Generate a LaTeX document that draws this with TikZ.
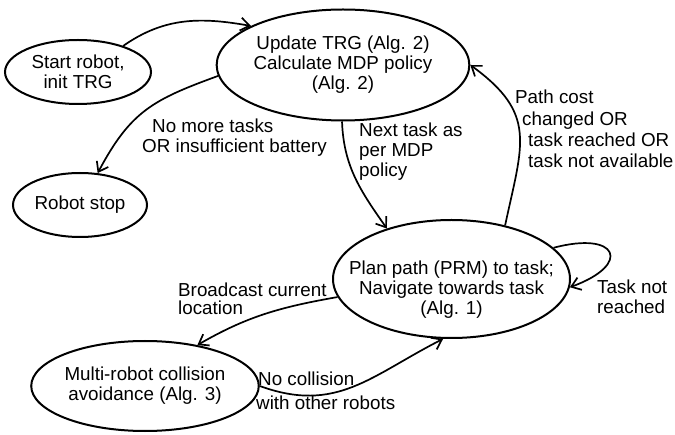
\documentclass[tikz,border=0pt]{standalone}
\usepackage{fontspec}
\setmainfont{Liberation Sans}
\usetikzlibrary{shapes.geometric,arrows.meta}
\begin{document}
\begin{tikzpicture}[x=1pt,y=1pt,
  every node/.style={font=\fontsize{18.8}{20}\selectfont, inner sep=0pt},
  state/.style={ellipse, draw, line width=2pt, align=center},
  conn/.style={line width=1.7pt, -{Straight Barb[length=9pt,width=13pt]}},
  lbl/.style={align=left, anchor=west}]
\useasboundingbox (0,0) rectangle (675,434);
% states
\node[state, minimum width=146pt, minimum height=64pt] (start) at (78,362) {Start robot,\\init TRG};
\node[state, minimum width=236pt, minimum height=111pt] (update) at (343,369) {Update TRG (Alg. 2)\\Calculate MDP policy\\(Alg. 2)};
\node[state, minimum width=134pt, minimum height=64pt] (stop) at (80,229) {Robot stop};
\node[state, minimum width=237pt, minimum height=118pt] (plan) at (451.5,155) {};
\node[align=center] (plantext) at (451.5,144) {Plan path (PRM) to task;\\Navigate towards task\\(Alg. 1)};
\node[state, minimum width=186pt, minimum height=90pt] (multi) at (145,48) {Multi-robot collision\\avoidance (Alg. 3)};
% connectors
\draw[conn] (start.30) to[out=35,in=170] (update.157);
\draw[conn] (update.185) to[out=200,in=62,looseness=1.15] (stop.61);
\draw[conn] (update.269) to[out=272,in=125] (plan.142);
\draw[conn] (plan.45) to[out=78,in=-36,looseness=1.3] (update.0);
\draw[conn] (plan.17) to[out=15,in=20,looseness=4] (plan.-4);
\draw[conn] (plan.189) to[out=190,in=30] (multi.38);
\draw[conn] (multi.0) to[out=-20,in=207,looseness=1.1] (plan.262);
% labels
\node[lbl] (l1) at (142,296) {\hspace*{10pt}No more tasks\\OR insufficient battery};
\node[lbl] (l2) at (359,282) {Next task as\\per MDP\\policy};
\node[lbl] (l3) at (515,305) {Path cost\\[1.3pt]\hspace*{7pt}changed OR\\[1.3pt]\hspace*{13pt}task reached OR\\[1.3pt]\hspace*{13pt}task not available};
\node[lbl] (l4) at (178,135.5) {Broadcast current\\[-2pt]location};
\node[lbl] (l5) at (597,137) {Task not\\reached};
\node[lbl] (l6) at (256,43) {\hspace*{2pt}No collision\\[4pt]with other robots};
\end{tikzpicture}
\end{document}
